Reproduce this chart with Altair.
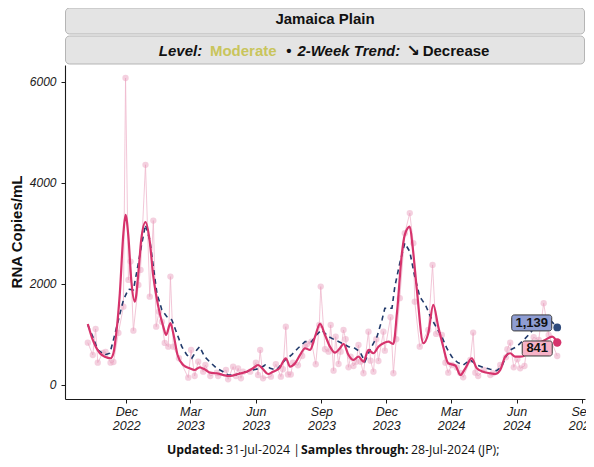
import altair as alt
import pandas as pd

# ---------------- data ----------------
raw_dates = [
    "2022-10-08", "2022-10-15", "2022-10-19", "2022-10-22", "2022-10-29", "2022-11-02",
    "2022-11-09", "2022-11-13", "2022-11-20", "2022-11-27", "2022-11-30", "2022-12-04",
    "2022-12-07", "2022-12-11", "2022-12-18", "2022-12-21", "2022-12-28", "2023-01-03",
    "2023-01-08", "2023-01-12", "2023-01-16", "2023-01-20", "2023-01-24", "2023-01-29",
    "2023-02-01", "2023-02-05", "2023-02-13", "2023-02-26", "2023-03-02", "2023-03-07",
    "2023-03-12", "2023-03-19", "2023-03-22", "2023-03-29", "2023-04-07", "2023-04-09",
    "2023-04-20", "2023-04-23", "2023-04-30", "2023-05-04", "2023-05-07", "2023-05-11",
    "2023-05-14", "2023-05-24", "2023-06-01", "2023-06-04", "2023-06-07", "2023-06-11",
    "2023-06-22", "2023-06-29", "2023-07-06", "2023-07-09", "2023-07-13", "2023-07-16",
    "2023-07-20", "2023-07-23", "2023-07-30", "2023-08-05", "2023-08-09", "2023-08-12",
    "2023-08-18", "2023-08-24", "2023-08-29", "2023-08-31", "2023-09-06", "2023-09-11",
    "2023-09-14", "2023-09-18", "2023-09-21", "2023-09-25", "2023-09-28", "2023-10-02",
    "2023-10-05", "2023-10-09", "2023-10-12", "2023-10-16", "2023-10-20", "2023-10-23",
    "2023-10-26", "2023-10-30", "2023-11-06", "2023-11-09", "2023-11-13", "2023-11-17",
    "2023-11-20", "2023-11-27", "2023-11-29", "2023-12-07", "2023-12-11", "2023-12-15",
    "2023-12-20", "2023-12-27", "2024-01-03", "2024-01-08", "2024-01-10", "2024-01-17",
    "2024-01-29", "2024-02-04", "2024-02-09", "2024-02-17", "2024-02-22", "2024-02-26",
    "2024-03-02", "2024-03-09", "2024-03-14", "2024-03-18", "2024-03-28", "2024-04-01",
    "2024-04-04", "2024-04-08", "2024-04-16", "2024-04-25", "2024-04-29", "2024-05-09",
    "2024-05-17", "2024-05-19", "2024-05-23", "2024-05-28", "2024-06-02", "2024-06-06",
    "2024-06-12", "2024-06-15", "2024-06-25", "2024-07-02", "2024-07-09", "2024-07-16",
    "2024-07-28",
]
raw_vals = [
    838, 594, 1109, 442, 634, 653,
    442, 455, 1030, 1550, 6073, 2079,
    2441, 1075, 1980, 2277, 4356, 1748,
    3253, 1154, 1451, 1253, 832, 758,
    2144, 758, 529, 145, 693, 178,
    461, 263, 396, 178, 244, 178,
    297, 113, 363, 178, 330, 132,
    263, 263, 442, 198, 693, 132,
    165, 410, 165, 311, 1154, 208,
    208, 442, 390, 574, 758, 812,
    857, 410, 1188, 1946, 707, 659,
    1188, 283, 956, 416, 659, 1089,
    905, 350, 560, 376, 461, 792,
    461, 232, 1055, 481, 263, 905,
    475, 1055, 679, 1340, 232, 905,
    1717, 3004, 3400, 2806, 1649, 758,
    1089, 2376, 1010, 990, 442, 244,
    396, 347, 238, 152, 495, 1036,
    244, 178, 297, 198, 232, 396,
    548, 707, 838, 350, 509, 330,
    376, 693, 944, 891, 1618, 990,
    574,
]

smooth_dates = [
    "2022-10-08", "2022-10-15", "2022-10-25", "2022-11-01", "2022-11-09", "2022-11-13",
    "2022-11-17", "2022-11-22", "2022-11-27", "2022-11-30", "2022-12-04", "2022-12-08",
    "2022-12-13", "2022-12-18", "2022-12-22", "2022-12-28", "2023-01-03", "2023-01-08",
    "2023-01-15", "2023-01-22", "2023-01-26", "2023-02-01", "2023-02-05", "2023-02-11",
    "2023-02-19", "2023-02-28", "2023-03-07", "2023-03-14", "2023-03-21", "2023-03-29",
    "2023-04-07", "2023-04-16", "2023-04-26", "2023-05-07", "2023-05-19", "2023-05-28",
    "2023-06-04", "2023-06-11", "2023-06-18", "2023-06-25", "2023-07-04", "2023-07-13",
    "2023-07-19", "2023-07-26", "2023-08-02", "2023-08-09", "2023-08-16", "2023-08-23",
    "2023-08-30", "2023-09-06", "2023-09-13", "2023-09-20", "2023-09-27", "2023-10-02",
    "2023-10-09", "2023-10-16", "2023-10-23", "2023-10-30", "2023-11-06", "2023-11-13",
    "2023-11-20", "2023-11-27", "2023-12-04", "2023-12-11", "2023-12-16", "2023-12-23",
    "2023-12-27", "2024-01-03", "2024-01-07", "2024-01-13", "2024-01-22", "2024-01-29",
    "2024-02-05", "2024-02-12", "2024-02-19", "2024-02-26", "2024-03-07", "2024-03-14",
    "2024-03-21", "2024-03-30", "2024-04-06", "2024-04-15", "2024-04-25", "2024-05-02",
    "2024-05-09", "2024-05-16", "2024-05-23", "2024-05-30", "2024-06-06", "2024-06-11",
    "2024-06-15", "2024-06-27", "2024-07-11", "2024-07-21", "2024-07-28",
]
smooth_vals = [
    1208, 891, 628, 560, 529, 628,
    1024, 1816, 3004, 3366, 2936, 2079,
    1649, 2212, 2871, 3222, 2837, 2144,
    1550, 1154, 990, 1222, 1024, 594,
    396, 330, 297, 350, 311, 244,
    232, 198, 178, 218, 263, 330,
    396, 311, 218, 263, 330, 529,
    363, 430, 594, 727, 693, 956,
    1208, 990, 758, 640, 727, 812,
    594, 495, 560, 461, 693, 628,
    758, 826, 857, 812, 1420, 2608,
    2970, 3134, 2738, 1881, 826, 1024,
    1584, 1154, 758, 430, 386, 198,
    330, 529, 330, 263, 232, 218,
    297, 560, 628, 560, 560, 574,
    693, 792, 891, 956, 841,
]

avg_dates = [
    "2022-10-08", "2022-10-15", "2022-10-22", "2022-11-01", "2022-11-08", "2022-11-13",
    "2022-11-20", "2022-11-27", "2022-12-04", "2022-12-11", "2022-12-18", "2022-12-22",
    "2022-12-28", "2023-01-03", "2023-01-08", "2023-01-13", "2023-01-20", "2023-01-27",
    "2023-02-03", "2023-02-10", "2023-02-17", "2023-02-24", "2023-03-03", "2023-03-10",
    "2023-03-14", "2023-03-21", "2023-03-28", "2023-04-07", "2023-04-16", "2023-04-23",
    "2023-05-03", "2023-05-10", "2023-05-19", "2023-05-28", "2023-06-07", "2023-06-14",
    "2023-06-21", "2023-06-30", "2023-07-12", "2023-07-21", "2023-07-30", "2023-08-09",
    "2023-08-18", "2023-08-25", "2023-09-01", "2023-09-11", "2023-09-20", "2023-09-30",
    "2023-10-09", "2023-10-18", "2023-10-25", "2023-11-01", "2023-11-08", "2023-11-18",
    "2023-11-25", "2023-11-29", "2023-12-09", "2023-12-13", "2023-12-20", "2023-12-27",
    "2024-01-03", "2024-01-10", "2024-01-17", "2024-01-25", "2024-02-01", "2024-02-10",
    "2024-02-17", "2024-02-24", "2024-03-02", "2024-03-10", "2024-03-18", "2024-03-28",
    "2024-04-06", "2024-04-15", "2024-04-25", "2024-05-04", "2024-05-11", "2024-05-17",
    "2024-05-23", "2024-06-01", "2024-06-11", "2024-06-20", "2024-07-04", "2024-07-15",
    "2024-07-22", "2024-07-28",
]
avg_vals = [
    1188, 956, 693, 594, 628, 891,
    1287, 1683, 1895, 1881, 2410, 2738,
    3168, 2871, 2342, 1816, 1485, 1352,
    1287, 1024, 758, 594, 529, 693,
    758, 560, 461, 330, 263, 198,
    198, 232, 263, 297, 330, 396,
    330, 297, 495, 594, 727, 857,
    857, 990, 1089, 956, 891, 826,
    758, 727, 659, 461, 693, 956,
    1287, 1519, 1519, 1946, 2410, 2806,
    2639, 2144, 1748, 1584, 1352, 1123,
    956, 727, 560, 446, 396, 495,
    396, 350, 311, 283, 363, 560,
    693, 758, 891, 1024, 1287, 1327,
    1228, 1139,
]

end_date = "2024-07-28"
end_avg_value = 1139
end_avg_label = "1,139"
end_smooth_value = 841
end_smooth_label = "841"

tick_months = [(2022, 12), (2023, 3), (2023, 6), (2023, 9), (2023, 12),
               (2024, 3), (2024, 6), (2024, 9)]
y_ticks = [0, 2000, 4000, 6000]

site_title = "Jamaica Plain"
caption_parts = ["Updated:", "31-Jul-2024 |", "Samples through:", "28-Jul-2024 (JP);"]

# ---------------- styling ----------------
PINK = "#d6336c"
NAVY = "#213a6b"
RAW = "#eeb3ca"
FONT = "Liberation Sans"

raw = pd.DataFrame({"date": raw_dates, "value": raw_vals})
smooth = pd.DataFrame({"date": smooth_dates, "value": smooth_vals})
avg = pd.DataFrame({"date": avg_dates, "value": avg_vals})
end_avg = pd.DataFrame({"date": [end_date], "value": [end_avg_value], "label": [end_avg_label]})
end_sm = pd.DataFrame({"date": [end_date], "value": [end_smooth_value], "label": [end_smooth_label]})
one = pd.DataFrame({"k": [0]})

x_scale = alt.Scale(type="utc",
                    domain=[alt.DateTime(year=2022, month=9, date=6, utc=True),
                            alt.DateTime(year=2024, month=9, date=5, utc=True)],
                    nice=False)
y_scale = alt.Scale(domain=[-277, 6330], nice=False, zero=False)

x_axis = alt.Axis(
    values=[alt.DateTime(year=y, month=m, date=1, utc=True) for y, m in tick_months],
    labelExpr="[utcFormat(datum.value, '%b'), utcFormat(datum.value, '%Y')]",
    title=None, grid=False, labelFlush=False, labelOverlap=False,
    labelFont=FONT, labelFontStyle="italic", labelFontSize=12.5, labelColor="#1a1a1a",
    labelLineHeight=14, labelPadding=2, tickSize=4, tickColor="#1a1a1a",
    domainColor="#1a1a1a", domainWidth=1.1,
)
y_axis = alt.Axis(
    values=y_ticks, format="d", title=None, grid=False, labelFlush=False,
    labelFont=FONT, labelFontStyle="italic", labelFontSize=12, labelColor="#1a1a1a",
    labelPadding=5, tickSize=4, tickColor="#1a1a1a",
    domainColor="#1a1a1a", domainWidth=1.1,
)

X = alt.X("date:T", scale=x_scale, axis=x_axis)
Y = alt.Y("value:Q", scale=y_scale, axis=y_axis)

raw_line = alt.Chart(raw).mark_line(color=RAW, strokeWidth=1, opacity=0.75).encode(x=X, y=Y)
raw_pts = alt.Chart(raw).mark_circle(size=40, color="#eaa2c0", opacity=0.5).encode(x=X, y=Y)
avg_line = alt.Chart(avg).mark_line(color=NAVY, strokeWidth=1.6, strokeDash=[5, 4]).encode(x=X, y=Y)
sm_line = alt.Chart(smooth).mark_line(color=PINK, strokeWidth=2.2, interpolate="monotone").encode(x=X, y=Y)

avg_dot = alt.Chart(end_avg).mark_circle(size=60, color="#2f4b7c", opacity=1).encode(x=X, y=Y)
sm_dot = alt.Chart(end_sm).mark_circle(size=70, color=PINK, opacity=1).encode(x=X, y=Y)

avg_box = alt.Chart(end_avg).mark_rect(
    width=40, height=16, xOffset=-25.5, yOffset=-4.5, cornerRadius=2.5,
    fill="#8e9dd3", stroke="#3a3a3a", strokeWidth=1).encode(x=X, y=Y)
avg_txt = alt.Chart(end_avg).mark_text(
    dx=-25.5, dy=-4.5, font=FONT, fontWeight="bold", fontSize=13, color="#111111"
).encode(x=X, y=Y, text="label:N")
sm_box = alt.Chart(end_sm).mark_rect(
    width=30, height=15, xOffset=-20, yOffset=6, cornerRadius=2.5,
    fill="#f7b3c8", stroke="#3a3a3a", strokeWidth=1).encode(x=X, y=Y)
sm_txt = alt.Chart(end_sm).mark_text(
    dx=-20, dy=6, font=FONT, fontWeight="bold", fontSize=13, color="#111111"
).encode(x=X, y=Y, text="label:N")

# ---------------- strips, titles, caption ----------------
def strip(y0, y1):
    return alt.Chart(one).mark_rect(fill="#e4e4e4", stroke="#b5b5b5", strokeWidth=1,
                                    cornerRadius=4).encode(
        x=alt.value(0.5), x2=alt.value(519.5), y=alt.value(y0), y2=alt.value(y1))

def label(text, x, y, align="left", weight="normal", style="normal", color="#111111",
          size=15, font=FONT, angle=0):
    return alt.Chart(one).mark_text(
        text=text, align=align, baseline="middle", fontWeight=weight, fontStyle=style,
        color=color, fontSize=size, font=font, angle=angle
    ).encode(x=alt.value(x), y=alt.value(y))

strip1 = strip(-57, -31)
strip2 = strip(-29, -1)
t_site = label(site_title, 260, -46, align="center", weight="bold")
t_level = label("Level:", 93.8, -14.5, weight="bold", style="italic")
t_mod = label("Moderate", 144.9, -14.5, weight="bold", color="#c9c55c")
t_dot = label("•", 223.9, -14.5, align="center", weight="bold")
t_trend = label("2-Week Trend:", 232.4, -14.5, weight="bold", style="italic")
t_arrow = label("↘", 341.5, -14.5, weight="bold", font="DejaVu Sans", size=16)
t_dec = label("Decrease", 357.7, -14.5, weight="bold")

y_title = label("RNA Copies/mL", -48.5, 167, align="center", weight="bold", angle=270)

CAP_FONT = "Open Sans"
CAP_SIZE = 12.3
cap_y = 384.5
c1 = label(caption_parts[0], 102, cap_y, weight="bold", size=CAP_SIZE, font=CAP_FONT)
c2 = label(caption_parts[1], 161, cap_y, size=CAP_SIZE, font=CAP_FONT)
c3 = label(caption_parts[2], 236, cap_y, weight="bold", size=CAP_SIZE, font=CAP_FONT)
c4 = label(caption_parts[3], 346, cap_y, size=CAP_SIZE, font=CAP_FONT)

chart = alt.layer(
    raw_line, raw_pts, avg_line, sm_line, avg_dot, sm_dot,
    avg_box, avg_txt, sm_box, sm_txt,
    strip1, strip2, t_site, t_level, t_mod, t_dot, t_trend, t_arrow, t_dec,
    y_title, c1, c2, c3, c4,
).properties(
    width=520, height=334,
    padding={"left": 57, "top": 57, "right": 1, "bottom": 59},
    autosize=alt.AutoSizeParams(type="none"),
    background="white",
).configure_view(stroke=None)

chart.save("out.html", embed_options={"renderer": "svg", "actions": False})
